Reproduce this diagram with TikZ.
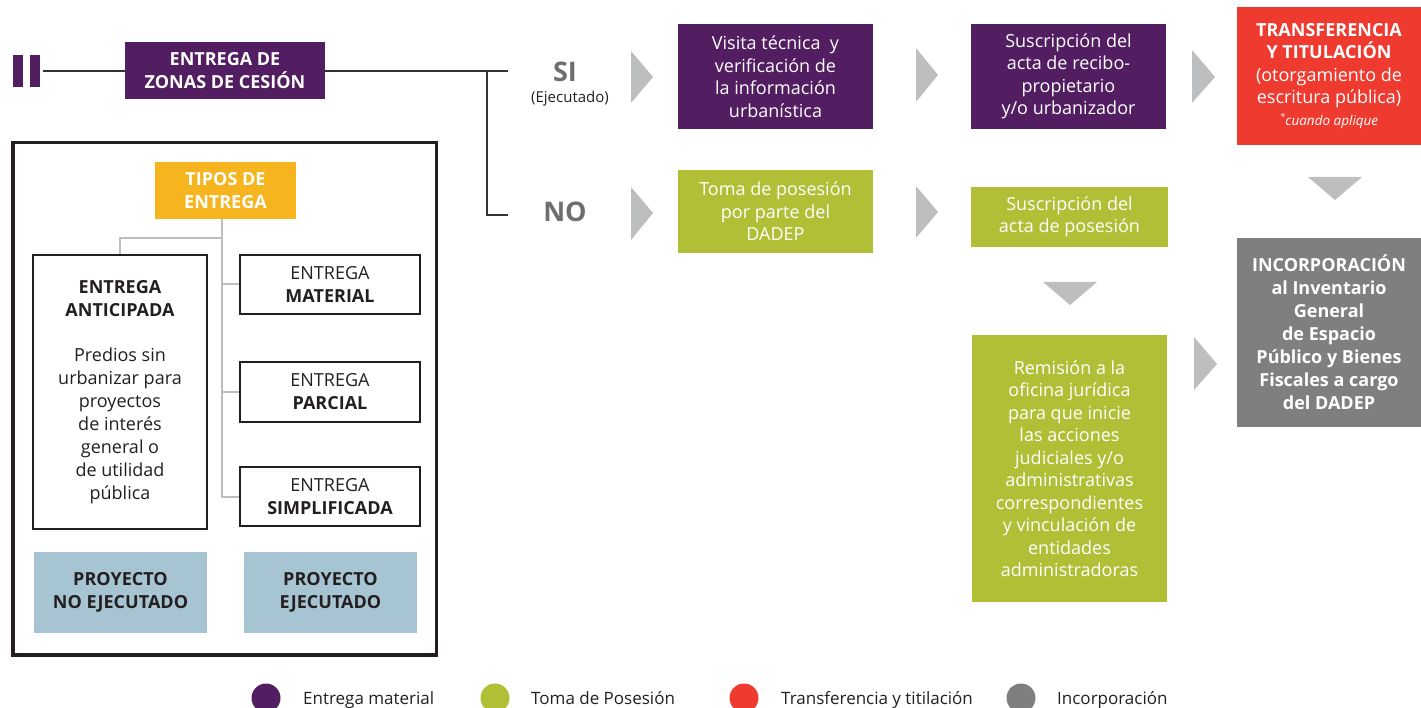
\documentclass[tikz,border=0pt]{standalone}
\usepackage{fontspec}
\setmainfont{Open Sans}
\definecolor{purp}{HTML}{521E61}
\definecolor{lime}{HTML}{B1BF37}
\definecolor{redc}{HTML}{EE3A2F}
\definecolor{grayb}{HTML}{7F7F7F}
\definecolor{tri}{HTML}{BCBEC0}
\definecolor{yel}{HTML}{F6B51E}
\definecolor{blu}{HTML}{A7C4D3}
\definecolor{ink}{HTML}{231F20}
\definecolor{lbl}{HTML}{6D6E71}
\definecolor{lnk}{HTML}{333333}
\tikzset{
  fillbox/.style={inner sep=0pt, align=center, text=white, font=\fontsize{18}{22.5}\selectfont},
  purpbox/.style={fillbox, fill=purp},
  limebox/.style={fillbox, fill=lime},
  inkbox/.style={inner sep=0pt, align=center, text=ink, draw=ink, line width=1.4pt, font=\fontsize{18}{23}\selectfont},
  blubox/.style={inner sep=0pt, align=center, text=ink, fill=blu, font=\bfseries\fontsize{18}{23}\selectfont},
  mainline/.style={draw=lnk, line width=1.5pt},
  greyline/.style={draw=tri, line width=2pt},
  arrowtri/.style={fill=tri},
  legdot/.style={circle, inner sep=0pt, minimum size=29pt},
  legtext/.style={anchor=base west, inner sep=0pt, text=ink, font=\fontsize{17}{20}\selectfont},
  bigword/.style={text=lbl, font=\bfseries\fontsize{27}{30}\selectfont, inner sep=0pt}
}
\begin{document}
\begin{tikzpicture}[x=1pt,y=-1pt]
\useasboundingbox (0,0) rectangle (1421,708);
\clip (0,0) rectangle (1421,708);
% left bars
\fill[purp] (13,55) rectangle (23,87);
\fill[purp] (30,55) rectangle (40,87);
\coordinate (barend) at (43,71);
% title
\node[purpbox, font=\bfseries\fontsize{18}{22.5}\selectfont, minimum width=200pt, minimum height=57pt] (entrega) at (225,70.5) {ENTREGA DE\\ZONAS DE CESIÓN};
\draw[mainline] (barend) -- (barend -| entrega.west);
\coordinate (siend) at (508,71);
\coordinate (split) at (487,71);
\coordinate (noend) at (508,215);
\draw[mainline] (entrega.east |- siend) -- (siend);
\draw[mainline] (split) |- (noend);
% SI / NO
\node[bigword] (si) at (565,72) {SI};
\node[inner sep=0pt, text=ink, font=\fontsize{15}{18}\selectfont] (ejec) at (570,99) {(Ejecutado)};
\node[bigword] (no) at (565,212) {NO};
% process boxes
\node[purpbox, minimum width=195pt, minimum height=105pt] (visita) at (775.5,76.5) {Visita técnica\ \ y\\verificación de\\la información\\urbanística};
\node[limebox, minimum width=195pt, minimum height=83pt] (toma) at (775.5,211.5) {Toma de posesión\\por parte del\\DADEP};
\node[purpbox, minimum width=195pt, minimum height=105pt] (recibo) at (1068.5,76.5) {Suscripción del\\acta de recibo-\\propietario\\y/o urbanizador};
\node[limebox, minimum width=197pt, minimum height=60pt] (posesion) at (1069.5,217) {Suscripción del\\acta de posesión};
\node[limebox, minimum width=195pt, minimum height=267pt] (remision) at (1069.5,468.5) {Remisión a la\\oficina jurídica\\para que inicie\\las acciones\\judiciales y/o\\administrativas\\correspondientes\\y vinculación de\\entidades\\administradoras};
\node[fillbox, fill=redc, minimum width=184pt, minimum height=138pt] (transf) at (1329,76) {\textbf{TRANSFERENCIA}\\\textbf{Y TITULACIÓN}\\(otorgamiento de\\escritura pública)\\[-1pt]{\fontsize{13.5}{16}\selectfont\itshape\textsuperscript{*}cuando aplique}};
\node[fillbox, fill=grayb, font=\bfseries\fontsize{18}{23}\selectfont, minimum width=184pt, minimum height=189pt] (incorp) at (1329,332.5) {INCORPORACIÓN\\al Inventario\\General\\de Espacio\\Público y Bienes\\Fiscales a cargo\\del DADEP};
% triangles
\fill[arrowtri] (631,51) -- (653,77) -- (631,103) -- cycle;
\fill[arrowtri] (631,187) -- (653,213) -- (631,240) -- cycle;
\fill[arrowtri] (916,48) -- (938,75) -- (916,102) -- cycle;
\fill[arrowtri] (916,186) -- (938,212) -- (916,238) -- cycle;
\fill[arrowtri] (1192,50) -- (1215,77) -- (1192,103) -- cycle;
\fill[arrowtri] (1308,177) -- (1362,177) -- (1335,200) -- cycle;
\fill[arrowtri] (1043,282) -- (1097,282) -- (1070,305) -- cycle;
\fill[arrowtri] (1194,337) -- (1217,364) -- (1194,390) -- cycle;
% left frame
\node[draw=ink, line width=3.5pt, minimum width=423.5pt, minimum height=512.5pt, inner sep=0pt] (frame) at (224.75,398.75) {};
\node[fillbox, fill=yel, font=\bfseries\fontsize{18}{22.5}\selectfont, minimum width=141pt, minimum height=57pt] (tipos) at (225.5,190.5) {TIPOS DE\\ENTREGA};
\node[inkbox, minimum width=174pt, minimum height=274pt] (antic) at (120,392) {\textbf{ENTREGA}\\\textbf{ANTICIPADA}\\[22pt]Predios sin\\urbanizar para\\proyectos\\de interés\\general o\\de utilidad\\pública};
\node[inkbox, minimum width=180pt, minimum height=59pt] (material) at (330,284.5) {ENTREGA\\\textbf{MATERIAL}};
\node[inkbox, minimum width=180pt, minimum height=60pt] (parcial) at (330,392) {ENTREGA\\\textbf{PARCIAL}};
\node[inkbox, minimum width=180pt, minimum height=59pt] (simpl) at (330,496.5) {ENTREGA\\\textbf{SIMPLIFICADA}};
\node[blubox, minimum width=173pt, minimum height=81pt] (pne) at (120.5,592.5) {PROYECTO\\NO EJECUTADO};
\node[blubox, minimum width=173pt, minimum height=81pt] (pe) at (330.5,592.5) {PROYECTO\\EJECUTADO};
% grey connectors
\coordinate (spine) at ([xshift=-3.5pt]tipos.south);
\draw[greyline] (spine) |- (material.west);
\draw[greyline] (spine) |- (parcial.west);
\draw[greyline] (spine) |- (simpl.west);
\draw[greyline] (spine) ++(0,19) -| (antic.north);
% legend
\node[legdot, fill=purp] (l1) at (266,698) {};
\node[legtext] (t1) at (303,704) {Entrega material};
\node[legdot, fill=lime] (l2) at (495,698) {};
\node[legtext] (t2) at (531,704) {Toma de Posesión};
\node[legdot, fill=redc] (l3) at (744,698) {};
\node[legtext] (t3) at (781,704) {Transferencia y titilación};
\node[legdot, fill=grayb] (l4) at (1021,698) {};
\node[legtext] (t4) at (1057,704) {Incorporación};
\end{tikzpicture}
\end{document}
